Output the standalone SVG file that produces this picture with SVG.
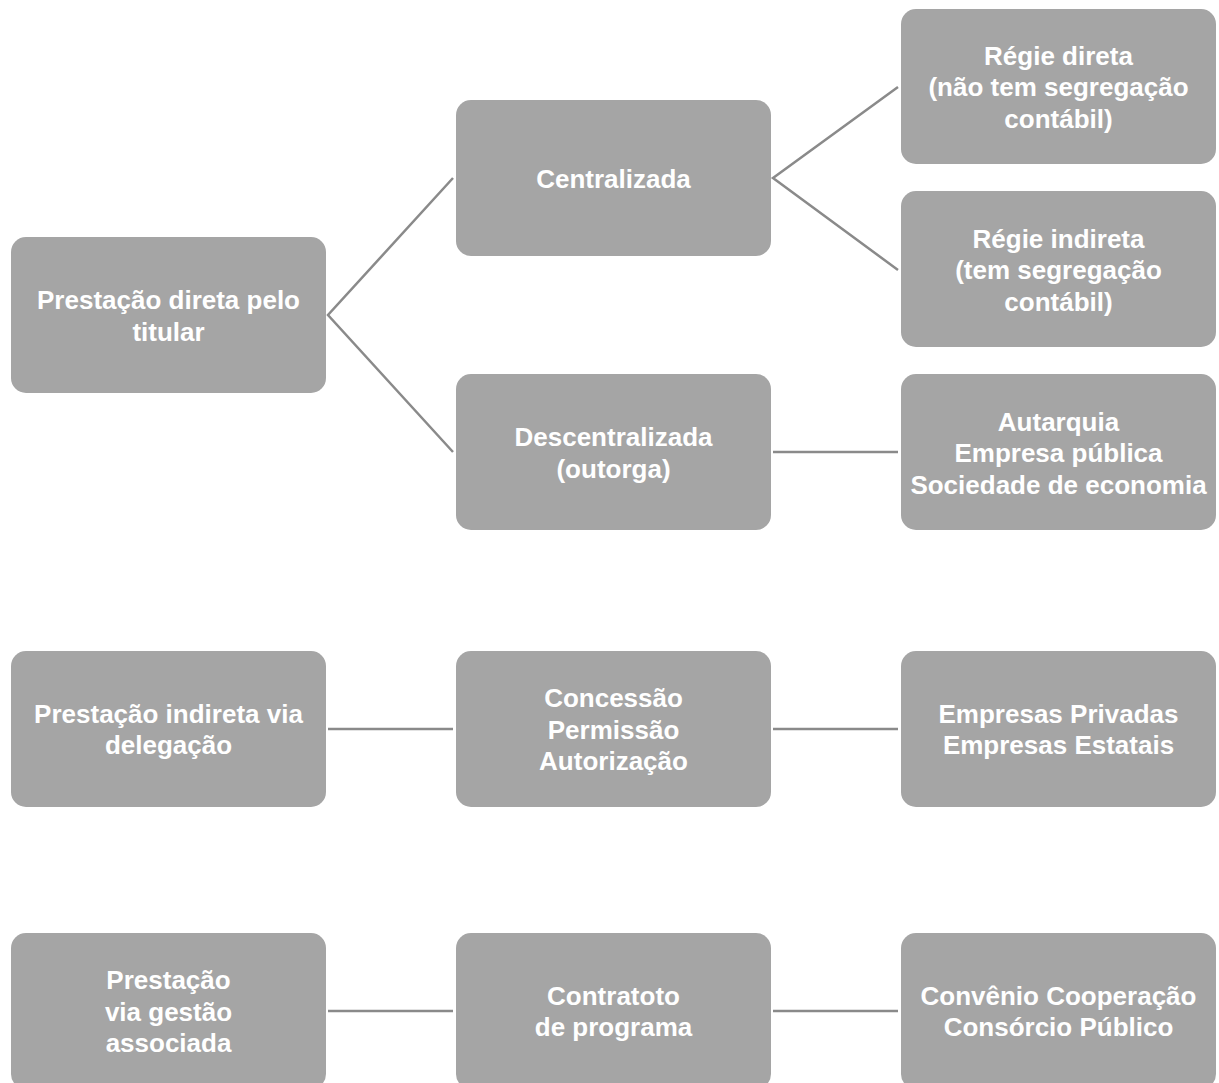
<svg xmlns="http://www.w3.org/2000/svg" width="1219" height="1083" viewBox="0 0 1219 1083">
  <style>
    .box { fill: #a5a5a5; }
    .lbl { font-family: "Liberation Sans", Arial, Helvetica, sans-serif; font-weight: bold; font-size: 26px; fill: #ffffff; text-anchor: middle; }
    .link { stroke: #8a8a8a; stroke-width: 2.5; fill: none; }
  </style>
  <rect width="1219" height="1083" fill="#ffffff"/>

  <!-- connectors -->
  <g id="connectors">
    <polyline class="link" points="453,178 328,315 453,452"/>
    <polyline class="link" points="898,87 773,178 898,270"/>
    <line class="link" x1="773" y1="452" x2="898" y2="452"/>
    <line class="link" x1="328" y1="729" x2="453" y2="729"/>
    <line class="link" x1="773" y1="729" x2="898" y2="729"/>
    <line class="link" x1="328" y1="1011" x2="453" y2="1011"/>
    <line class="link" x1="773" y1="1011" x2="898" y2="1011"/>
  </g>

  <!-- direct provision tree -->
  <g id="prestacao-direta">
    <rect class="box" x="11" y="237" width="315" height="156" rx="15"/>
    <text class="lbl" x="168.5"><tspan x="168.5" y="309">Prestação direta pelo</tspan><tspan x="168.5" y="340.5">titular</tspan></text>
  </g>
  <g id="centralizada">
    <rect class="box" x="456" y="100" width="315" height="156" rx="15"/>
    <text class="lbl" x="613.5" y="187.5">Centralizada</text>
  </g>
  <g id="descentralizada">
    <rect class="box" x="456" y="374" width="315" height="156" rx="15"/>
    <text class="lbl"><tspan x="613.5" y="446">Descentralizada</tspan><tspan x="613.5" y="477.5">(outorga)</tspan></text>
  </g>
  <g id="regie-direta">
    <rect class="box" x="901" y="9" width="315" height="155" rx="15"/>
    <text class="lbl"><tspan x="1058.5" y="64.5">Régie direta</tspan><tspan x="1058.5" y="96">(não tem segregação</tspan><tspan x="1058.5" y="127.5">contábil)</tspan></text>
  </g>
  <g id="regie-indireta">
    <rect class="box" x="901" y="191" width="315" height="156" rx="15"/>
    <text class="lbl"><tspan x="1058.5" y="247.5">Régie indireta</tspan><tspan x="1058.5" y="279">(tem segregação</tspan><tspan x="1058.5" y="310.5">contábil)</tspan></text>
  </g>
  <g id="entidades">
    <rect class="box" x="901" y="374" width="315" height="156" rx="15"/>
    <text class="lbl"><tspan x="1058.5" y="430.5">Autarquia</tspan><tspan x="1058.5" y="462">Empresa pública</tspan><tspan x="1058.5" y="493.5">Sociedade de economia</tspan></text>
  </g>

  <!-- delegation row -->
  <g id="prestacao-indireta">
    <rect class="box" x="11" y="651" width="315" height="156" rx="15"/>
    <text class="lbl"><tspan x="168.5" y="722.5">Prestação indireta via</tspan><tspan x="168.5" y="754">delegação</tspan></text>
  </g>
  <g id="concessao">
    <rect class="box" x="456" y="651" width="315" height="156" rx="15"/>
    <text class="lbl"><tspan x="613.5" y="707">Concessão</tspan><tspan x="613.5" y="738.5">Permissão</tspan><tspan x="613.5" y="770">Autorização</tspan></text>
  </g>
  <g id="empresas">
    <rect class="box" x="901" y="651" width="315" height="156" rx="15"/>
    <text class="lbl"><tspan x="1058.5" y="722.5">Empresas Privadas</tspan><tspan x="1058.5" y="754">Empresas Estatais</tspan></text>
  </g>

  <!-- associated management row -->
  <g id="gestao-associada">
    <rect class="box" x="11" y="933" width="315" height="156" rx="15"/>
    <text class="lbl"><tspan x="168.5" y="989">Prestação</tspan><tspan x="168.5" y="1020.5">via gestão</tspan><tspan x="168.5" y="1052">associada</tspan></text>
  </g>
  <g id="contrato-programa">
    <rect class="box" x="456" y="933" width="315" height="156" rx="15"/>
    <text class="lbl"><tspan x="613.5" y="1004.5">Contratoto</tspan><tspan x="613.5" y="1036">de programa</tspan></text>
  </g>
  <g id="convenio">
    <rect class="box" x="901" y="933" width="315" height="156" rx="15"/>
    <text class="lbl"><tspan x="1058.5" y="1004.5">Convênio Cooperação</tspan><tspan x="1058.5" y="1036">Consórcio Público</tspan></text>
  </g>
</svg>
